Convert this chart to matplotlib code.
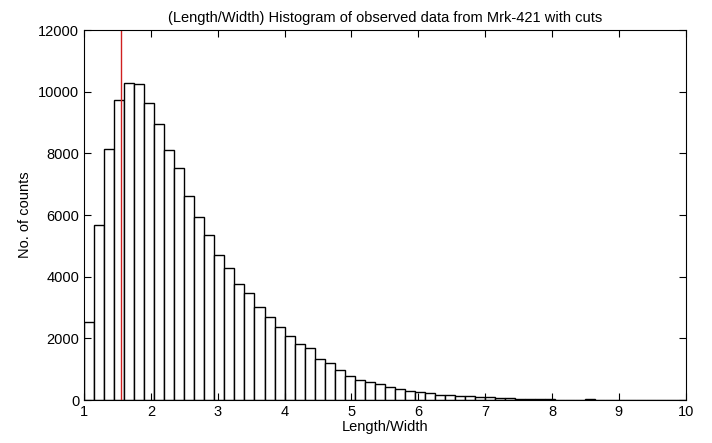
# histogram of length/width ratio (Mrk-421, with cuts)
import numpy as np
import matplotlib
matplotlib.use('Agg')
import matplotlib.pyplot as plt

plt.rcParams['font.family'] = ['Liberation Sans', 'DejaVu Sans']

# bin edges: 60 bins of width 0.15 from 1 to 10
bin_start = 1.0
bin_width = 0.15
counts = [2520, 5690, 8150, 9720, 10300, 10240, 9640, 8970, 8110, 7520,
          6630, 5950, 5360, 4720, 4290, 3750, 3460, 3030, 2690, 2380,
          2090, 1830, 1680, 1340, 1200, 970, 770, 660, 600, 510,
          410, 370, 290, 260, 220, 160, 160, 140, 130, 110,
          100, 70, 50, 40, 30, 30, 30, 0, 0, 0,
          40, 0, 0, 0, 0, 0, 0, 0, 0, 0]
cut_value = 1.55

edges = bin_start + bin_width * np.arange(len(counts))

fig = plt.figure(figsize=(7.12, 4.43), dpi=100)
ax = fig.add_axes([0.118, 0.097, 0.845, 0.835])

ax.bar(edges, counts, width=bin_width, align='edge',
       facecolor='white', edgecolor='black', linewidth=1)
ax.axvline(cut_value, color='#d02020', linewidth=1)

ax.set_xlim(1, 10)
ax.set_ylim(0, 12000)
ax.set_xticks(range(1, 11))
ax.set_yticks(range(0, 12001, 2000))
ax.tick_params(direction='in', top=True, right=True, length=5, labelsize=10.5)
ax.set_title('(Length/Width) Histogram of observed data from Mrk-421 with cuts', fontsize=10.5)
ax.set_xlabel('Length/Width', fontsize=10.5, labelpad=1)
ax.set_ylabel('No. of counts', fontsize=10.5)

plt.savefig('out.png', dpi=100)
